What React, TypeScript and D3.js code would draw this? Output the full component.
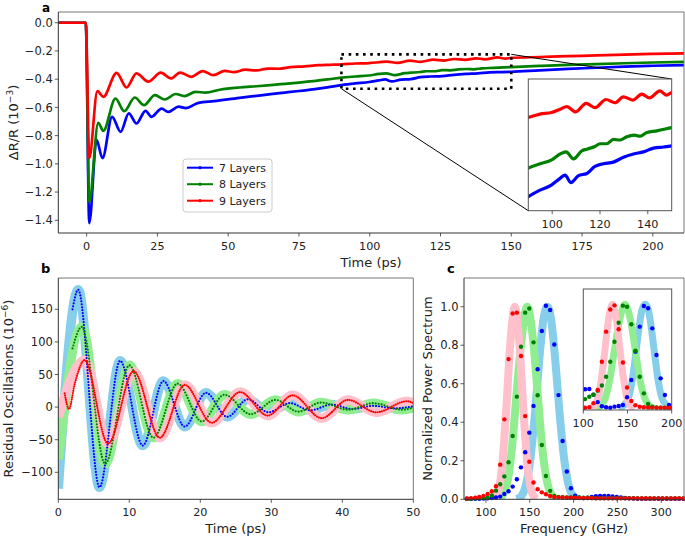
import * as d3 from "d3";

type Pt = [number, number];

const FONT = "DejaVu Sans, Verdana, sans-serif";

// ---------- panel a: transient reflectivity ----------
const timeTicksA = [0, 25, 50, 75, 100, 125, 150, 175, 200];
const drTicks = [0, -0.2, -0.4, -0.6, -0.8, -1.0, -1.2, -1.4];
const zoomTimeTicks = [100, 120, 140];
const layerNames = ["7 Layers", "8 Layers", "9 Layers"];
const layerColors = ["#0000ff", "#008000", "#ff0000"];

const dr7: Pt[] = [
  [-10, 0], [-5, 0], [-0.3, 0], [0.93, -1.42], [3.5, -0.83], [5.6, -0.96], [9.0, -0.667], [12.0, -0.773],
  [14.9, -0.643], [17.6, -0.714], [20.8, -0.624], [22.9, -0.667], [26.5, -0.608], [28.8, -0.632],
  [32.5, -0.595], [35, -0.605], [39.5, -0.568], [45, -0.556], [54, -0.532], [60, -0.518], [65, -0.506],
  [70, -0.495], [75, -0.484], [80, -0.472], [85, -0.458],
  [90, -0.442], [94.9, -0.43], [99.8, -0.42], [103.3, -0.408], [105.4, -0.402], [107.8, -0.416],
  [111, -0.403], [114.5, -0.399], [117.9, -0.386], [121.4, -0.381], [125.6, -0.378], [129.8, -0.369],
  [134, -0.363], [138.2, -0.359], [142.4, -0.352], [146.6, -0.35], [150, -0.348],
  [160, -0.337], [170, -0.327], [180, -0.319], [190, -0.311], [200, -0.305], [211, -0.3],
];

const dr8: Pt[] = [
  [-10, 0], [-5, 0], [-0.3, 0], [0.93, -1.27], [4.1, -0.71], [5.9, -0.766], [10.2, -0.537], [13.3, -0.627],
  [17.0, -0.53], [20.3, -0.584], [24.1, -0.513], [27.6, -0.544], [31.5, -0.505], [34.5, -0.52],
  [38.5, -0.49], [42, -0.495], [47, -0.475], [54, -0.459], [60, -0.45], [65, -0.442], [70, -0.433],
  [75, -0.424], [80, -0.414], [85, -0.402],
  [90, -0.389], [94.9, -0.381], [99.8, -0.374], [103.3, -0.363], [105.8, -0.359], [108.9, -0.372],
  [112.4, -0.357], [114.5, -0.354], [117.9, -0.349], [120, -0.344], [122.8, -0.344], [125.6, -0.336],
  [128.4, -0.337], [131.2, -0.331], [134.3, -0.328], [136.8, -0.33], [139.6, -0.323], [143.8, -0.32],
  [150, -0.314],
  [160, -0.306], [170, -0.299], [180, -0.293], [190, -0.287], [200, -0.282], [211, -0.277],
];

const dr9: Pt[] = [
  [-10, 0], [-5, 0], [-0.3, 0], [0.93, -0.96], [3.8, -0.485], [5.9, -0.525], [10.6, -0.355], [14.1, -0.459],
  [17.6, -0.359], [21.8, -0.418], [26.2, -0.354], [29.8, -0.395], [33, -0.353], [37, -0.383],
  [41, -0.343], [44.8, -0.372], [48.8, -0.341], [52, -0.35], [56, -0.333], [60, -0.338], [64, -0.325],
  [68, -0.326], [72, -0.315], [77, -0.309], [82, -0.301], [86, -0.298],
  [90, -0.295], [94.9, -0.289], [99.8, -0.286], [103.3, -0.28], [106.1, -0.275], [109.8, -0.285],
  [114.2, -0.269], [117.9, -0.277], [122.5, -0.262], [126.3, -0.268], [129.8, -0.257], [133.7, -0.263],
  [137.5, -0.252], [140.7, -0.259], [145.1, -0.246], [147.9, -0.254], [150, -0.249],
  [160, -0.243], [170, -0.237], [180, -0.232], [190, -0.226], [200, -0.221], [211, -0.217],
];

// ---------- panel b: residual oscillations ----------
const residTimeTicks = [0, 10, 20, 30, 40, 50];
const residTicks = [-100, -50, 0, 50, 100, 150];
const fitColors = ["#87ceeb", "#90ee90", "#ffc0cb"];

const osc7: Pt[] = [
  [0, -125], [2.8, 180], [5.8, -123], [8.7, 71], [11.9, -59], [14.8, 40], [17.8, -30], [20.8, 22],
  [23.8, -15], [26.7, 12], [29.6, -8], [32.6, 6], [35.5, -5], [38.5, 4], [41.4, -3], [44.4, 2],
  [47.3, -2], [50, 1],
];
const osc8: Pt[] = [
  [0, -80], [3.3, 123], [6.6, -87], [10, 64], [13.4, -47], [16.8, 36], [20.2, -22], [23.4, 19],
  [27.1, -11], [30.6, 11], [33.8, -7], [37, 7], [40.8, -4], [44.4, 6], [48.4, -4], [50, -1],
];
const osc9: Pt[] = [
  [0, -15], [3.7, 72], [7.0, -56], [10.6, 55], [14.3, -47], [17.8, 34], [21.6, -24], [25.6, 23],
  [29.5, -13], [33.0, 18], [37.1, -17], [40.8, 11], [44.8, -8], [49.1, 9], [50, 6],
];
// first measured points, before the data joins the fits
const oscHead7: Pt[] = [[2.0, 150]];
const oscHead8: Pt[] = [[2.0, 90]];
const oscHead9: Pt[] = [[0.9, 21], [1.5, -3], [2.3, 35]];

// ---------- panel c: power spectra ----------
const freqTicks = [100, 150, 200, 250, 300];
const powerTicks = [0, 0.2, 0.4, 0.6, 0.8, 1.0];
const insetFreqTicks = [100, 150, 200];

const freqs = [
  78.3, 83.0, 87.8, 92.5, 97.3, 102.0, 106.8, 111.5, 116.3, 121.0, 125.8, 130.5, 135.3, 140.0,
  144.8, 149.5, 154.3, 159.0, 163.8, 168.5, 173.3, 178.0, 182.8, 187.5, 192.3, 197.0, 201.8, 206.5,
  211.3, 216.0, 220.8, 225.5, 230.3, 235.0, 239.8, 244.5, 249.3, 254.0, 258.8, 263.5, 268.3, 273.0,
  277.8, 282.5, 287.3, 292.0, 296.8, 301.5, 306.3, 311.0, 315.8, 320.5, 325.3,
];
const spec7 = [
  0.002, 0.002, 0.003, 0.003, 0.004, 0.005, 0.007, 0.009, 0.014, 0.028, 0.042, 0.066, 0.104, 0.166,
  0.244, 0.346, 0.485, 0.675, 0.874, 1.005, 0.983, 0.804, 0.541, 0.303, 0.144, 0.057, 0.019, 0.008,
  0.006, 0.008, 0.012, 0.016, 0.018, 0.018, 0.017, 0.015, 0.012, 0.009, 0.007, 0.005, 0.004, 0.003,
  0.003, 0.003, 0.003, 0.003, 0.003, 0.003, 0.003, 0.003, 0.003, 0.003, 0.003,
];
const spec8 = [
  0.003, 0.003, 0.004, 0.005, 0.007, 0.01, 0.02, 0.045, 0.078, 0.119, 0.192, 0.329, 0.533, 0.792,
  0.969, 0.991, 0.815, 0.54, 0.282, 0.121, 0.044, 0.017, 0.012, 0.011, 0.01, 0.01, 0.009, 0.009,
  0.008, 0.008, 0.007, 0.006, 0.006, 0.006, 0.006, 0.006, 0.006, 0.006, 0.006, 0.006, 0.006, 0.005,
  0.005, 0.005, 0.005, 0.005, 0.005, 0.005, 0.005, 0.005, 0.005, 0.005, 0.005,
];
const spec9 = [
  0.004, 0.006, 0.008, 0.012, 0.018, 0.028, 0.042, 0.068, 0.18, 0.415, 0.728, 0.965, 0.969, 0.744,
  0.432, 0.195, 0.087, 0.052, 0.036, 0.026, 0.017, 0.012, 0.01, 0.009, 0.008, 0.008, 0.007, 0.007,
  0.006, 0.006, 0.006, 0.005, 0.005, 0.005, 0.005, 0.005, 0.005, 0.005, 0.005, 0.005, 0.005, 0.004,
  0.004, 0.004, 0.004, 0.004, 0.004, 0.004, 0.004, 0.004, 0.004, 0.004, 0.004,
];
const specFit7: Pt[] = [
  [135, 0], [141, 0.02], [146, 0.08], [151, 0.22], [156, 0.45], [161, 0.73], [165.5, 0.93], [170, 1.0],
  [174.5, 0.93], [179, 0.73], [184, 0.45], [189, 0.22], [194, 0.08], [199, 0.02], [205, 0],
];
const specFit8: Pt[] = [
  [114, 0], [120, 0.03], [125, 0.1], [130, 0.28], [135, 0.55], [140, 0.8], [147, 1.0], [154, 0.82],
  [159, 0.55], [164, 0.28], [169, 0.11], [174, 0.03], [180, 0],
];
const specFit9: Pt[] = [
  [108, 0], [113, 0.03], [118, 0.15], [123, 0.45], [128, 0.82], [133, 1.0], [138, 0.82], [143, 0.45],
  [148, 0.15], [153, 0.03], [158, 0],
];

// inset of c (frequencies 102.0 … 201.8 of the grid above)
const insetFreqs = [
  102.0, 106.8, 111.5, 116.3, 121.0, 125.8, 130.5, 135.3, 140.0, 144.8, 149.5, 154.3, 159.0, 163.8,
  168.5, 173.3, 178.0, 182.8, 187.5, 192.3, 197.0, 201.8,
];
const insetSpec7 = [
  0.183, 0.186, 0.13, 0.06, 0.02, 0.01, 0.006, 0.016, 0.022, 0.032, 0.106, 0.272, 0.545, 0.785, 0.984,
  0.962, 0.769, 0.513, 0.288, 0.128, 0.032, 0.006,
];
const insetSpec8 = [
  0.089, 0.112, 0.13, 0.17, 0.22, 0.304, 0.448, 0.64, 0.823, 0.987, 0.977, 0.808, 0.554, 0.304, 0.144,
  0.041, 0.015, 0.008, 0.005, 0.004, 0.004, 0.003,
];
const insetSpec9 = [
  0.005, 0.01, 0.05, 0.176, 0.448, 0.737, 0.95, 0.99, 0.76, 0.44, 0.2, 0.07, 0.03, 0.015, 0.01, 0.008,
  0.007, 0.006, 0.006, 0.005, 0.005, 0.005,
];
const insetFit7: Pt[] = [
  [140, 0], [146, 0.03], [151, 0.1], [155, 0.25], [159, 0.5], [163, 0.77], [166.5, 0.95], [170, 1.0],
  [173.5, 0.95], [177, 0.77], [181, 0.5], [185, 0.25], [189, 0.1], [194, 0.03], [200, 0],
];

type Lin = d3.ScaleLinear<number, number>;

const curve = (x: Lin, y: Lin, pts: Pt[]) =>
  d3.line<Pt>().x((d) => x(d[0])).y((d) => y(d[1])).curve(d3.curveMonotoneX)(pts) || "";

function Frame({ x, y }: { x: Lin; y: Lin }) {
  const [l, r] = x.range();
  const t = Math.min(...y.range());
  const b = Math.max(...y.range());
  return (
    <g fill="none" strokeWidth={1}>
      <line x1={l} x2={r} y1={t} y2={t} stroke="#777" />
      <line x1={r} x2={r} y1={t} y2={b} stroke="#777" />
      <line x1={l} x2={l} y1={t} y2={b} stroke="#333" />
      <line x1={l} x2={r} y1={b} y2={b} stroke="#333" />
    </g>
  );
}

function XTicks({ x, y, ticks, fmt, size = 11.2, gap = 13.5 }: { x: Lin; y: Lin; ticks: number[]; fmt: (v: number) => string; size?: number; gap?: number }) {
  const b = Math.max(...y.range());
  return (
    <g>
      {ticks.map((t) => (
        <g key={t}>
          <line x1={x(t)} x2={x(t)} y1={b} y2={b + 3.5} stroke="#333" strokeWidth={0.8} />
          <text x={x(t)} y={b + gap + 3.5} textAnchor="middle" fontSize={size} fill="#222">{fmt(t)}</text>
        </g>
      ))}
    </g>
  );
}

function YTicks({ x, y, ticks, fmt }: { x: Lin; y: Lin; ticks: number[]; fmt: (v: number) => string }) {
  const l = x.range()[0];
  return (
    <g>
      {ticks.map((t) => (
        <g key={t}>
          <line x1={l - 3.5} x2={l} y1={y(t)} y2={y(t)} stroke="#333" strokeWidth={0.8} />
          <text x={l - 5.5} y={y(t)} dy="0.36em" textAnchor="end" fontSize={11.5} fill="#222">{fmt(t)}</text>
        </g>
      ))}
    </g>
  );
}

export default function App() {
  // panel a
  const xA = d3.scaleLinear().domain([-10, 211]).range([58.3, 684]);
  const yA = d3.scaleLinear().domain([0.076, -1.49]).range([12, 233]);
  const xZ = d3.scaleLinear().domain([90, 150]).range([528.3, 671.7]);
  const yZ = d3.scaleLinear().domain([-0.224, -0.468]).range([79, 210.7]);
  // panel b
  const xB = d3.scaleLinear().domain([0, 50]).range([58.3, 413.3]);
  const yB = d3.scaleLinear().domain([198, -141.4]).range([278, 499.3]);
  // panel c
  const xC = d3.scaleLinear().domain([75, 326]).range([464, 684]);
  const yC = d3.scaleLinear().domain([0, 1.149]).range([499.3, 278]);
  const xI = d3.scaleLinear().domain([100, 200]).range([583.3, 671.7]);
  const yI = d3.scaleLinear().domain([-0.016, 1.147]).range([410, 289]);

  const layers = [dr7, dr8, dr9];
  const oscFits = [osc7, osc8, osc9];
  const oscHeads = [oscHead7, oscHead8, oscHead9];
  const specs = [spec7, spec8, spec9];
  const specFits = [specFit7, specFit8, specFit9];
  const insetSpecs = [insetSpec7, insetSpec8, insetSpec9];
  const insetFits = [insetFit7, specFit8, specFit9];

  const f1 = d3.format(".1f");
  const fd = d3.format("d");

  const zx0 = xA(90), zx1 = xA(150), zy0 = yA(-0.224), zy1 = yA(-0.468);

  return (
    <svg width={685} height={536} style={{ position: "absolute", left: 0, top: 0, background: "#fff" }} fontFamily={FONT}>
      <defs>
        <clipPath id="clipA"><rect x={58.3} y={12} width={625.7} height={221} /></clipPath>
        <clipPath id="clipZ"><rect x={528.3} y={79} width={143.4} height={131.7} /></clipPath>
        <clipPath id="clipB"><rect x={58.3} y={278} width={355} height={221.3} /></clipPath>
        <clipPath id="clipC"><rect x={464} y={278} width={220} height={221.3} /></clipPath>
        <clipPath id="clipI"><rect x={583.3} y={289} width={88.4} height={121} /></clipPath>
      </defs>

      {/* ---------------- a ---------------- */}
      <g clipPath="url(#clipA)">
        {layers.map((pts, i) => (
          <path key={i} d={curve(xA, yA, pts)} fill="none" stroke={layerColors[i]} strokeWidth={2.7} />
        ))}
      </g>
      <rect x={zx0} y={zy0} width={zx1 - zx0} height={zy1 - zy0} fill="none" stroke="#000" strokeWidth={2.6} strokeDasharray="2.6 4.6" />
      <line x1={zx1} y1={zy0} x2={671.7} y2={79} stroke="#000" strokeWidth={1} />
      <line x1={zx0} y1={zy1} x2={528.3} y2={210.7} stroke="#000" strokeWidth={1} />
      <rect x={528.3} y={79} width={143.4} height={131.7} fill="#fff" />
      <g clipPath="url(#clipZ)">
        {layers.map((pts, i) => (
          <path key={i} d={curve(xZ, yZ, pts.filter((d) => d[0] >= 85 && d[0] <= 160))} fill="none" stroke={layerColors[i]} strokeWidth={3.2} />
        ))}
      </g>
      <rect x={528.3} y={79} width={143.4} height={131.7} fill="none" stroke="#555" strokeWidth={1} />
      <XTicks x={xZ} y={yZ} ticks={zoomTimeTicks} fmt={fd} />

      <Frame x={xA} y={yA} />
      <XTicks x={xA} y={yA} ticks={timeTicksA} fmt={fd} />
      <YTicks x={xA} y={yA} ticks={drTicks} fmt={f1} />

      <g>
        <rect x={183} y={159} width={89} height={53} rx={3} fill="#fff" fillOpacity={0.85} stroke="#ccc" strokeWidth={1} />
        {layerNames.map((name, i) => {
          const yy = 167.7 + i * 16.5;
          return (
            <g key={name}>
              <line x1={187} x2={213} y1={yy} y2={yy} stroke={layerColors[i]} strokeWidth={2} />
              <circle cx={200} cy={yy} r={1.6} fill={layerColors[i]} />
              <text x={219} y={yy + 4} fontSize={11} fill="#222">{name}</text>
            </g>
          );
        })}
      </g>

      <text x={371} y={267} textAnchor="middle" fontSize={13} fill="#222">Time (ps)</text>
      <text transform="translate(17.5,122.5) rotate(-90)" textAnchor="middle" fontSize={13} fill="#222">
        ΔR/R (10<tspan dy={-5} fontSize={9}>−3</tspan><tspan dy={5}>)</tspan>
      </text>
      <text x={42} y={12} fontSize={12} fontWeight="bold" fill="#000">a</text>

      {/* ---------------- b ---------------- */}
      <g clipPath="url(#clipB)">
        {oscFits.map((pts, i) => (
          <path key={i} d={curve(xB, yB, pts)} fill="none" stroke={fitColors[i]} strokeWidth={9.5} />
        ))}
        {oscFits.map((pts, i) => {
          const head = oscHeads[i];
          const last = head[head.length - 1][0];
          const data = head.concat(pts.filter((d) => d[0] > last + 0.5));
          return (
            <path key={i} d={curve(xB, yB, data)} fill="none" stroke={layerColors[i]} strokeWidth={2.2}
              strokeLinecap="round" strokeDasharray={i === 2 ? "0 2.2" : "0 3"} />
          );
        })}
      </g>
      <Frame x={xB} y={yB} />
      <XTicks x={xB} y={yB} ticks={residTimeTicks} fmt={fd} />
      <YTicks x={xB} y={yB} ticks={residTicks} fmt={fd} />
      <text x={235.8} y={533} textAnchor="middle" fontSize={13} fill="#222">Time (ps)</text>
      <text transform="translate(12.5,388.6) rotate(-90)" textAnchor="middle" fontSize={13} fill="#222">
        Residual Oscillations (10<tspan dy={-5} fontSize={9}>−6</tspan><tspan dy={5}>)</tspan>
      </text>
      <text x={41} y={273} fontSize={13} fontWeight="bold" fill="#000">b</text>

      {/* ---------------- c ---------------- */}
      <g clipPath="url(#clipC)">
        {specFits.map((pts, i) => (
          <path key={i} d={curve(xC, yC, pts)} fill="none" stroke={fitColors[i]} strokeWidth={8} />
        ))}
      </g>
      {specs.map((vals, i) => (
        <g key={i} fill={layerColors[i]}>
          {vals.map((v, k) => (
            <circle key={k} cx={xC(freqs[k])} cy={yC(v)} r={2.2} />
          ))}
        </g>
      ))}
      <rect x={583.3} y={289} width={88.4} height={121} fill="#fff" />
      <g clipPath="url(#clipI)">
        {insetFits.map((pts, i) => (
          <path key={i} d={curve(xI, yI, pts)} fill="none" stroke={fitColors[i]} strokeWidth={7} />
        ))}
        {insetSpecs.map((vals, i) => (
          <g key={i} fill={layerColors[i]}>
            {vals.map((v, k) => (
              <circle key={k} cx={xI(insetFreqs[k])} cy={yI(v)} r={2.2} />
            ))}
          </g>
        ))}
      </g>
      <rect x={583.3} y={289} width={88.4} height={121} fill="none" stroke="#555" strokeWidth={1} />
      <XTicks x={xI} y={yI} ticks={insetFreqTicks} fmt={fd} />

      <Frame x={xC} y={yC} />
      <XTicks x={xC} y={yC} ticks={freqTicks} fmt={fd} />
      <YTicks x={xC} y={yC} ticks={powerTicks} fmt={f1} />
      <text x={574} y={533} textAnchor="middle" fontSize={13} fill="#222">Frequency (GHz)</text>
      <text transform="translate(432,388.6) rotate(-90)" textAnchor="middle" fontSize={13} fill="#222">
        Normalized Power Spectrum
      </text>
      <text x={447} y={273} fontSize={13} fontWeight="bold" fill="#000">c</text>
    </svg>
  );
}
